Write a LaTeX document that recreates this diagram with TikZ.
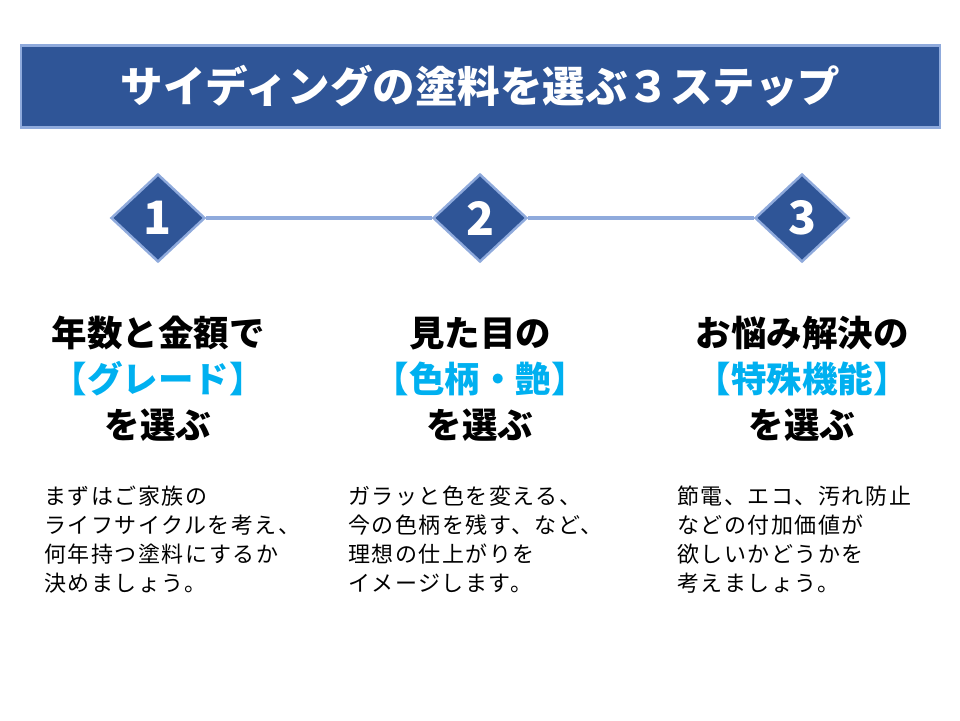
\documentclass[tikz,border=0pt]{standalone}
\usepackage{fontspec}
\newfontfamily\cjk{Noto Sans CJK JP}
\newfontfamily\cjkwide[LetterSpace=7]{Noto Sans CJK JP}
\usetikzlibrary{shapes.geometric}
\definecolor{titleblue}{HTML}{2F5597}
\definecolor{edgeblue}{HTML}{8FAADC}
\definecolor{keyblue}{HTML}{00B0F0}
\tikzstyle{titlebar}=[rectangle,fill=titleblue,draw=edgeblue,line width=2.5pt,minimum width=919pt,minimum height=82pt,inner sep=0pt,text=white,font=\cjk\bfseries\fontsize{42.5}{42.5}\selectfont]
\tikzstyle{stepdiamond}=[diamond,fill=titleblue,draw=edgeblue,line width=2.5pt,minimum width=94pt,minimum height=88pt,inner sep=0pt,text=white,font=\cjk\bfseries\fontsize{46}{46}\selectfont]
\tikzstyle{headline}=[align=center,inner sep=0pt,font=\cjk\bfseries\fontsize{35.5}{46}\selectfont]
\tikzstyle{bodytext}=[anchor=north west,align=left,inner sep=0pt,font=\cjkwide\fontsize{22}{29}\selectfont]
\tikzstyle{link}=[draw=edgeblue,line width=3.5pt]
\begin{document}
\begin{tikzpicture}[x=1pt,y=-1pt]
    \useasboundingbox (0,0) rectangle (960,720);
    % Title bar
    \node[titlebar] (title) at (480.5,86.5) {サイディングの塗料を選ぶ３ステップ};

    % Step markers
    \foreach \pos/\name/\label in {{(158,218)/s1/1}, {(480,218)/s2/2}, {(802,218)/s3/3}}
        \node[stepdiamond] (\name) at \pos {\label};
    \foreach \source/\dest in {s1/s2, s2/s3}
        \path[link] (\source) -- (\dest);

    % Headings
    \node[headline] (head1) at (158,379) {年数と金額で\\\textcolor{keyblue}{【グレード】}\\を選ぶ};
    \node[headline] (head2) at (480,379) {見た目の\\\textcolor{keyblue}{【色柄・艶】}\\を選ぶ};
    \node[headline] (head3) at (802,379) {お悩み解決の\\\textcolor{keyblue}{【特殊機能】}\\を選ぶ};

    % Explanations
    \node[bodytext] (text1) at (44,486) {まずはご家族の\\ライフサイクルを考え、\\何年持つ塗料にするか\\決めましょう。};
    \node[bodytext] (text2) at (348,486) {ガラッと色を変える、\\今の色柄を残す、など、\\理想の仕上がりを\\イメージします。};
    \node[bodytext] (text3) at (677,486) {節電、エコ、汚れ防止\\などの付加価値が\\欲しいかどうかを\\考えましょう。};
\end{tikzpicture}
\end{document}
